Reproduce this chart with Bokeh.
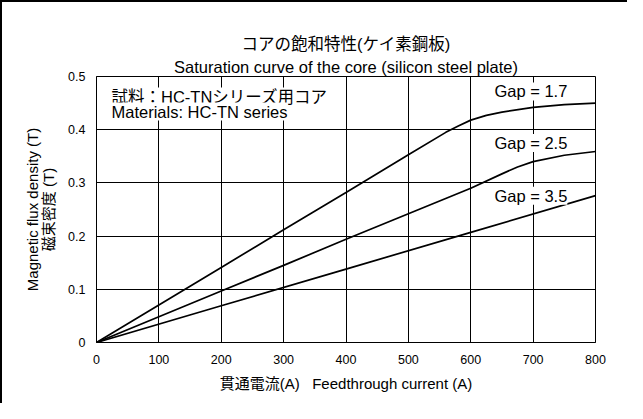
from bokeh.plotting import figure
from bokeh.models import Label, Title, FixedTicker, NumeralTickFormatter, Range1d
from bokeh.embed import file_html
from bokeh.resources import INLINE

# ---- data ----
x_ticks = [0, 100, 200, 300, 400, 500, 600, 700, 800]
y_ticks = [0, 0.1, 0.2, 0.3, 0.4, 0.5]

gap17_x = [0, 100, 200, 300, 400, 500, 560, 580, 600, 625, 650, 700, 750, 800]
gap17_y = [0, 0.0706, 0.141, 0.212, 0.282, 0.353, 0.395, 0.407, 0.418, 0.427, 0.433, 0.442, 0.447, 0.450]

gap25_x = [0, 100, 200, 300, 400, 500, 600, 650, 675, 700, 750, 800]
gap25_y = [0, 0.0484, 0.0968, 0.145, 0.194, 0.242, 0.290, 0.317, 0.330, 0.340, 0.352, 0.359]

gap35_x = [0, 200, 400, 600, 800]
gap35_y = [0, 0.069, 0.138, 0.207, 0.276]

gap_labels = ["Gap = 1.7", "Gap = 2.5", "Gap = 3.5"]
gap_label_x = [638, 638, 638]
gap_label_y = [0.472, 0.375, 0.276]

title_jp = "コアの飽和特性(ケイ素鋼板)"
title_en = "Saturation curve of the core (silicon steel plate)"
note_jp = "試料：HC-TNシリーズ用コア"
note_en = "Materials: HC-TN series"
x_title = "貫通電流(A)\u00a0\u00a0 Feedthrough current (A)"
y_title = "Magnetic flux density (T)\n磁束密度 (T)"

FONT = "'Liberation Sans', Arial, 'Noto Sans CJK JP', sans-serif"

p = figure(width=627, height=403, x_range=Range1d(0, 800), y_range=Range1d(0, 0.5),
           output_backend="svg", toolbar_location=None, title=None,
           min_border_left=94, min_border_right=34, min_border_top=74, min_border_bottom=63)
p.background_fill_color = "white"
p.border_fill_color = "white"
p.outline_line_color = "black"
p.outline_line_width = 1
p.styles = {"border-left": "2px solid black", "border-top": "2px solid black"}

for ax in (p.xaxis[0], p.yaxis[0]):
    ax.axis_line_color = "black"
    ax.major_tick_line_color = None
    ax.minor_tick_line_color = None
    ax.major_label_text_font = FONT
    ax.major_label_text_font_size = "12.5px"
    ax.major_label_text_color = "black"
    ax.axis_label_text_font = FONT
    ax.axis_label_text_font_size = "15px"
    ax.axis_label_text_font_style = "normal"
    ax.axis_label_text_color = "black"

p.xaxis.ticker = FixedTicker(ticks=x_ticks)
p.yaxis.ticker = FixedTicker(ticks=y_ticks)
p.yaxis.formatter = NumeralTickFormatter(format="0.[0]")
p.xaxis.major_label_standoff = 6
p.yaxis.major_label_standoff = 5
p.xaxis.axis_label = x_title
p.yaxis.axis_label = y_title
p.xaxis.axis_label_standoff = 8
p.yaxis.axis_label_standoff = 8
p.yaxis.axis_label_text_line_height = 0.95

p.xgrid.ticker = FixedTicker(ticks=x_ticks)
p.ygrid.ticker = FixedTicker(ticks=y_ticks)
for g in (p.xgrid[0], p.ygrid[0]):
    g.grid_line_color = "black"
    g.grid_line_width = 1
    g.grid_line_alpha = 1.0

for xs, ys in ((gap17_x, gap17_y), (gap25_x, gap25_y), (gap35_x, gap35_y)):
    p.line(xs, ys, line_color="black", line_width=1.7)

for t, lx, ly in zip(gap_labels, gap_label_x, gap_label_y):
    p.add_layout(Label(x=lx, y=ly, text=t, text_font=FONT, text_font_size="16.5px",
                       text_baseline="middle", text_align="left", text_color="black",
                       background_fill_color="white", background_fill_alpha=1.0))

p.add_layout(Label(x=24, y=0.4624, text=note_jp, text_font=FONT, text_font_size="16.5px",
                   text_baseline="middle", text_align="left", text_color="black",
                   background_fill_color="white", background_fill_alpha=1.0))
p.add_layout(Label(x=24, y=0.4342, text=note_en, text_font=FONT, text_font_size="16.5px",
                   text_baseline="middle", text_align="left", text_color="black",
                   background_fill_color="white", background_fill_alpha=1.0))

p.add_layout(Title(text=title_en, align="center", text_font=FONT, text_font_size="16.5px",
                   text_font_style="normal", text_color="black", standoff=2), "above")
p.add_layout(Title(text=title_jp, align="center", text_font=FONT, text_font_size="16.5px",
                   text_font_style="normal", text_color="black", standoff=4), "above")

open("out.html", "w").write(file_html(p, INLINE))
